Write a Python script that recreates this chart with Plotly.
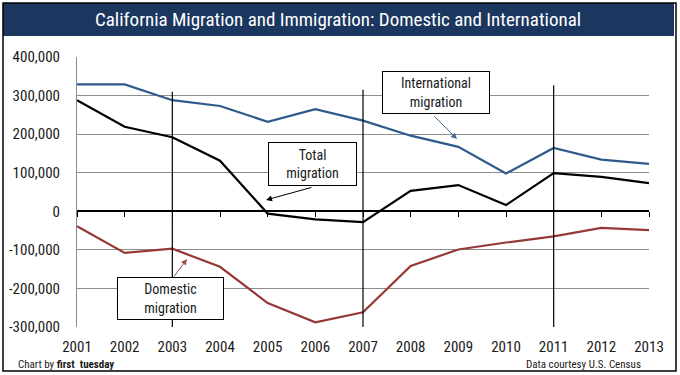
import plotly.graph_objects as go

# ---------------- data ----------------
years = list(range(2001, 2014))
international = [329000, 329000, 288000, 273000, 232000, 265000, 235000,
                 196000, 167000, 98000, 164000, 134000, 123000]
total = [288000, 219000, 192000, 131000, -6000, -21000, -28000,
         53000, 68000, 16000, 99000, 89000, 73000]
domestic = [-39000, -108000, -97000, -144000, -238000, -288000, -262000,
            -142000, -99000, -81000, -65000, -43000, -49000]
marker_years = [2003, 2007, 2011]
marker_tops = [310000, 315000, 327000]
y_tick_vals = [400000, 300000, 200000, 100000, 0, -100000, -200000, -300000]
y_tick_text = ["400,000", "300,000", "200,000", "100,000", "0",
               "-100,000", "-200,000", "-300,000"]
x_tick_text = [str(y) for y in years]

title_text = "California Migration and Immigration: Domestic and International"

# ---------------- layout helpers ----------------
W, H = 680, 375
L, R, T, B = 77, 31, 57, 48
PW, PH = W - L - R, H - T - B
FONT = "Liberation Sans Narrow, Roboto Condensed, DejaVu Sans Condensed, Liberation Sans, sans-serif"


def px(x):
    return (x - L) / PW


def py(y):
    return (H - B - y) / PH


BLUE = "#2F5A8C"
RED = "#963837"
BLACK = "#000000"
GRID = "#8C8C8C"
TEXT = "#1a1a1a"

fig = go.Figure()

fig.add_trace(go.Scatter(x=years, y=international, mode="lines",
                         line=dict(color=BLUE, width=2.2), name="International",
                         cliponaxis=False, hoverinfo="x+y"))
fig.add_trace(go.Scatter(x=years, y=total, mode="lines",
                         line=dict(color=BLACK, width=2.2), name="Total",
                         cliponaxis=False, hoverinfo="x+y"))
fig.add_trace(go.Scatter(x=years, y=domestic, mode="lines",
                         line=dict(color=RED, width=2.2), name="Domestic",
                         cliponaxis=False, hoverinfo="x+y"))

# vertical marker lines (on overlay axis that also carries the zero-line ticks)
vx, vy = [], []
for yr, top in zip(marker_years, marker_tops):
    vx += [yr, yr, None]
    vy += [y_tick_vals[-1], top, None]
fig.add_trace(go.Scatter(x=vx, y=vy, mode="lines", xaxis="x2",
                         line=dict(color=BLACK, width=1.2),
                         hoverinfo="skip", showlegend=False))

fig.update_layout(
    width=W, height=H,
    margin=dict(l=L, r=R, t=T, b=B, autoexpand=False),
    paper_bgcolor="white", plot_bgcolor="white",
    showlegend=False,
    font=dict(family=FONT, color=TEXT),
    xaxis=dict(range=[years[0], years[-1]], tickvals=years, ticktext=x_tick_text,
               showgrid=False, zeroline=False, showline=False, automargin=False,
               ticks="outside", ticklen=6, tickcolor="rgba(0,0,0,0)",
               tickfont=dict(size=15, family=FONT, color=TEXT)),
    xaxis2=dict(range=[years[0], years[-1]], overlaying="x", anchor="free",
                position=3 / 7, side="bottom", tickvals=years, automargin=False,
                showticklabels=False, showgrid=False, zeroline=False,
                showline=True, linecolor=BLACK, linewidth=1.5,
                ticks="outside", ticklen=5, tickcolor=BLACK, tickwidth=1.2),
    yaxis=dict(range=[y_tick_vals[-1], y_tick_vals[0]], tickvals=y_tick_vals,
               ticktext=y_tick_text, showgrid=True, gridcolor=GRID, gridwidth=1,
               zeroline=False, showline=True, linecolor=GRID, linewidth=1,
               automargin=False,
               ticks="outside", ticklen=13, tickcolor="rgba(0,0,0,0)",
               tickfont=dict(size=15, family=FONT, color=TEXT)),
)

shapes = [
    # title bar
    dict(type="rect", xref="paper", yref="paper", x0=px(3), x1=px(674),
         y0=py(36), y1=py(3), fillcolor="#1B3760", line=dict(width=0),
         layer="below"),
    # outer frame
    dict(type="rect", xref="paper", yref="paper", x0=px(3), x1=px(676),
         y0=py(371), y1=py(3), line=dict(color=BLACK, width=1.5),
         fillcolor="rgba(0,0,0,0)"),
]
fig.update_layout(shapes=shapes)

ann = []
ann.append(dict(xref="paper", yref="paper", x=px(338), y=py(19.5),
                text=title_text, showarrow=False,
                font=dict(size=19, color="white", family=FONT),
                xanchor="center", yanchor="middle"))


def box(cx, cy, w, h, text):
    return dict(xref="paper", yref="paper", x=px(cx), y=py(cy), text=text,
                showarrow=False, width=w, height=h, bgcolor="white",
                bordercolor=BLACK, borderwidth=1, borderpad=0,
                font=dict(size=14, family=FONT, color=TEXT),
                xanchor="center", yanchor="middle", align="center")


def arrow(tail, head, color):
    return dict(xref="paper", yref="paper", x=px(head[0]), y=py(head[1]),
                ax=tail[0] - head[0], ay=tail[1] - head[1], text="",
                showarrow=True, arrowhead=2, arrowsize=1.2, arrowwidth=1,
                arrowcolor=color)


ann.append(arrow((433, 115), (457, 139), "#4A6A94"))
ann.append(arrow((313, 187), (266, 200), BLACK))
ann.append(arrow((173, 278), (187, 259), "#A0504E"))
ann.append(box(436, 92.5, 106, 41, "International<br>migration"))
ann.append(box(312.5, 164, 87, 42, "Total<br>migration"))
ann.append(box(170.5, 298.5, 105, 41, "Domestic<br>migration"))

ann.append(dict(xref="paper", yref="paper", x=px(16), y=py(364),
                text="Chart by <b>first  tuesday</b>", showarrow=False,
                font=dict(size=11, family=FONT, color=TEXT),
                xanchor="left", yanchor="middle"))
ann.append(dict(xref="paper", yref="paper", x=px(643), y=py(364),
                text="Data courtesy U.S. Census", showarrow=False,
                font=dict(size=11, family=FONT, color=TEXT),
                xanchor="right", yanchor="middle"))

fig.update_layout(annotations=ann)

fig.write_html("out.html", config={"displayModeBar": False},
               post_script="document.body.style.margin='0';document.body.style.overflow='hidden';")
